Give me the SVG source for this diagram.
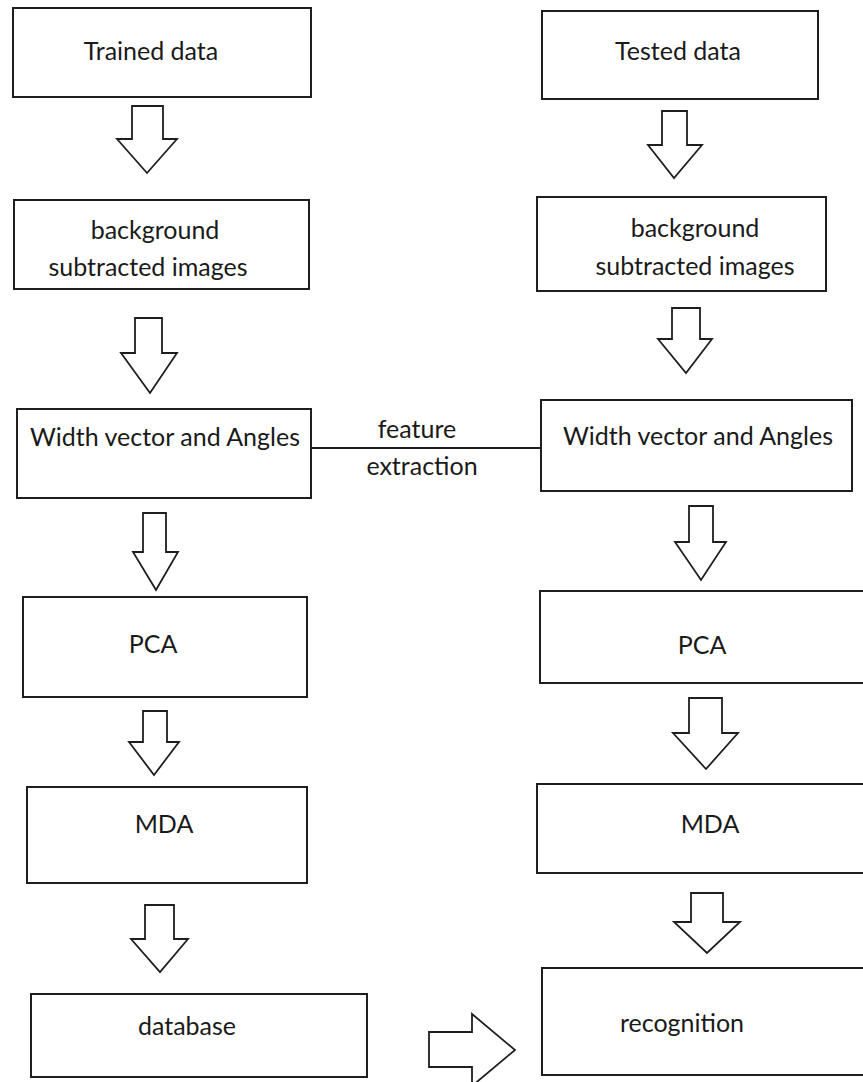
<svg xmlns="http://www.w3.org/2000/svg" width="863" height="1082" viewBox="0 0 863 1082">
  <style>
    .box { fill: #ffffff; stroke: #1e1e1e; stroke-width: 2; }
    .arrow { fill: #ffffff; stroke: #1e1e1e; stroke-width: 1.8; stroke-linejoin: miter; }
    .link { fill: none; stroke: #1e1e1e; stroke-width: 2; }
    text { font-family: Lato, "Open Sans", sans-serif; font-size: 25px; fill: #1a1a1a; text-anchor: middle; }
  </style>
  <rect width="863" height="1082" fill="#ffffff"/>

  <!-- connectors: block arrows and the feature extraction link -->
  <g id="connectors">
    <polygon class="arrow" points="132,106 163,106 163,139 177,139 147,173 117,139 132,139"/>
    <polygon class="arrow" points="135,318 162,318 162,353 177,353 150,393 121,353 135,353"/>
    <polygon class="arrow" points="143,513 166,513 166,552 178,552 156,590 133,552 143,552"/>
    <polygon class="arrow" points="143,711 167,711 167,742 179,742 154,775 129,742 143,742"/>
    <polygon class="arrow" points="145,905 174,905 174,939 188,939 160,972 131,939 145,939"/>

    <polygon class="arrow" points="662,111 687,111 687,145 702,145 674,178 648,145 662,145"/>
    <polygon class="arrow" points="672,308 700,308 700,339 712,339 686,373 658,339 672,339"/>
    <polygon class="arrow" points="689,506 713,506 713,542 726,542 701,580 675,542 689,542"/>
    <polygon class="arrow" points="689,698 722,698 722,733 738,733 706,769 673,733 689,733"/>
    <polygon class="arrow" points="691,893 723,893 723,922 740,922 707,953 674,922 691,922"/>

    <polygon class="arrow" points="429,1032 472,1032 472,1014 515,1050 472,1086 472,1067 429,1067"/>

    <line class="link" x1="311" y1="448" x2="541" y2="448"/>
    <text x="417" y="438">feature</text>
    <text x="422" y="475">extraction</text>
  </g>

  <!-- training branch -->
  <g id="trained-data">
    <rect class="box" x="13" y="8" width="298" height="89"/>
    <text x="151" y="60">Trained data</text>
  </g>
  <g id="bg-subtracted-train">
    <rect class="box" x="14" y="200" width="295" height="89"/>
    <text x="155" y="239">background</text>
    <text x="148" y="276">subtracted images</text>
  </g>
  <g id="width-angles-train">
    <rect class="box" x="17" y="409" width="294" height="89"/>
    <text x="165" y="446">Width vector and Angles</text>
  </g>
  <g id="pca-train">
    <rect class="box" x="23" y="597" width="284" height="100"/>
    <text x="153" y="653">PCA</text>
  </g>
  <g id="mda-train">
    <rect class="box" x="27" y="787" width="280" height="96"/>
    <text x="164" y="833">MDA</text>
  </g>
  <g id="database">
    <rect class="box" x="31" y="994" width="336" height="83"/>
    <text x="187" y="1035">database</text>
  </g>

  <!-- testing branch -->
  <g id="tested-data">
    <rect class="box" x="542" y="11" width="276" height="88"/>
    <text x="678" y="60">Tested data</text>
  </g>
  <g id="bg-subtracted-test">
    <rect class="box" x="537" y="197" width="289" height="94"/>
    <text x="695" y="237">background</text>
    <text x="695" y="275">subtracted images</text>
  </g>
  <g id="width-angles-test">
    <rect class="box" x="541" y="400" width="311" height="91"/>
    <text x="698" y="445">Width vector and Angles</text>
  </g>
  <g id="pca-test">
    <rect class="box" x="540" y="591" width="336" height="92"/>
    <text x="702" y="654">PCA</text>
  </g>
  <g id="mda-test">
    <rect class="box" x="537" y="784" width="339" height="89"/>
    <text x="710" y="833">MDA</text>
  </g>
  <g id="recognition">
    <rect class="box" x="542" y="968" width="334" height="107"/>
    <text x="682" y="1032">recognition</text>
  </g>
</svg>
